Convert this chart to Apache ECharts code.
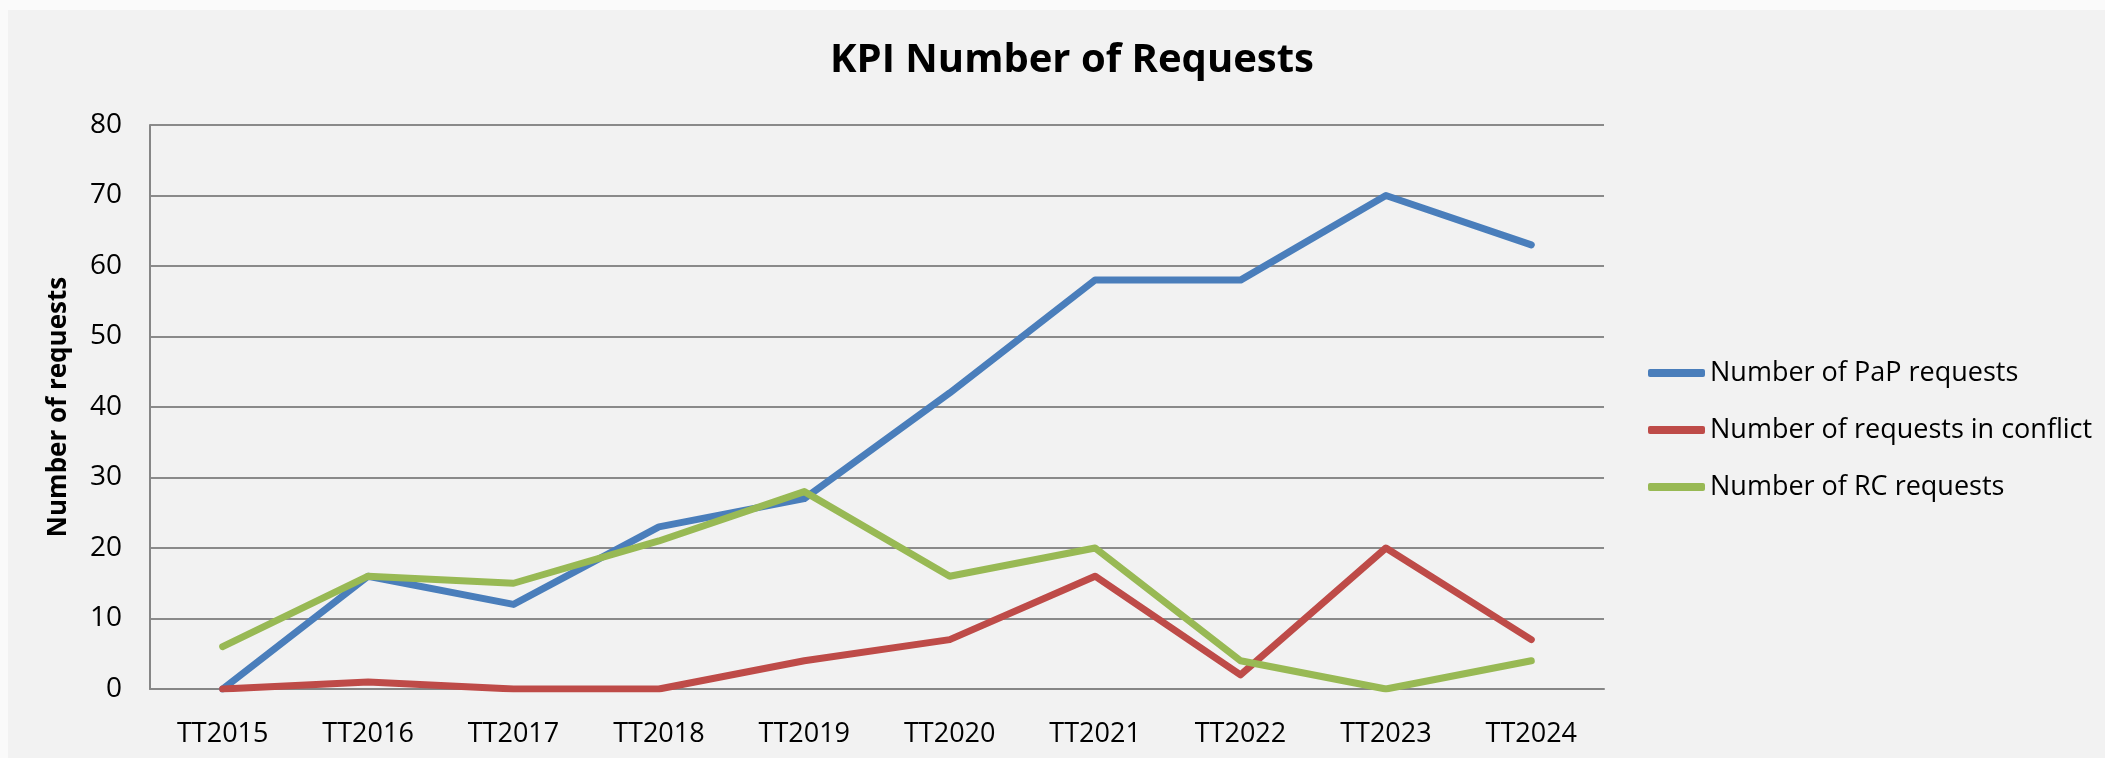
<!DOCTYPE html>
<html>
<head>
<meta charset="utf-8">
<script src="https://cdn.jsdelivr.net/npm/echarts@6/dist/echarts.min.js"></script>
<style>
html,body{margin:0;padding:0;background:#fafafa;width:2105px;height:758px;overflow:hidden;}
#chart{position:absolute;left:8px;top:10px;width:2097px;height:748px;background:#f2f2f2;}
</style>
</head>
<body>
<div id="chart"></div>
<script>
const categories = ['TT2015','TT2016','TT2017','TT2018','TT2019','TT2020','TT2021','TT2022','TT2023','TT2024'];
const papRequests = [0, 16, 12, 23, 27, 42, 58, 58, 70, 63];
const conflictRequests = [0, 1, 0, 0, 4, 7, 16, 2, 20, 7];
const rcRequests = [6, 16, 15, 21, 28, 16, 20, 4, 0, 4];
const seriesNames = ['Number of PaP requests', 'Number of requests in conflict', 'Number of RC requests'];
const yTicks = {min: 0, max: 80, interval: 10};

const FONT = '"Open Sans", "Liberation Sans", sans-serif';
const colors = ['#4a7ebb', '#be4b48', '#98b954'];
const chart = echarts.init(document.getElementById('chart'), null, {renderer: 'canvas'});

function mkSeries(name, data, color) {
  return {
    name: name, type: 'line', data: data, showSymbol: false, symbol: 'none',
    lineStyle: {width: 7, color: color, cap: 'round', join: 'round'},
    itemStyle: {color: color},
    emphasis: {disabled: true},
    animation: false
  };
}

chart.setOption({
  animation: false,
  color: colors,
  title: {
    text: 'KPI Number of Requests',
    left: 1059, top: 26, textAlign: 'center',
    textStyle: {fontFamily: FONT, fontSize: 40, fontWeight: 'bold', color: '#000'}
  },
  grid: {left: 142, top: 115, right: 501, bottom: 69, containLabel: false},
  legend: {
    orient: 'vertical', left: 1635, top: 343,
    icon: 'roundRect', itemWidth: 57, itemHeight: 8, itemGap: 27,
    data: seriesNames,
    textStyle: {fontFamily: FONT, fontSize: 27, color: '#000', lineHeight: 30, padding: [0,0,0,0]}
  },
  xAxis: {
    type: 'category', data: categories, boundaryGap: true,
    axisLine: {lineStyle: {color: '#868686', width: 2}},
    axisTick: {show: false},
    axisLabel: {fontFamily: FONT, fontSize: 27, color: '#000', margin: 32}
  },
  yAxis: {
    type: 'value', min: yTicks.min, max: yTicks.max, interval: yTicks.interval,
    name: 'Number of requests', nameLocation: 'middle', nameGap: 78,
    nameTextStyle: {fontFamily: FONT, fontSize: 26, fontWeight: 'bold', color: '#000'},
    axisLine: {show: true, lineStyle: {color: '#868686', width: 2}},
    axisTick: {show: false},
    splitLine: {lineStyle: {color: '#8a8a8a', width: 2}},
    axisLabel: {fontFamily: FONT, fontSize: 28, color: '#000', margin: 28}
  },
  series: [
    mkSeries(seriesNames[0], papRequests, colors[0]),
    mkSeries(seriesNames[1], conflictRequests, colors[1]),
    mkSeries(seriesNames[2], rcRequests, colors[2])
  ]
});
</script>
</body>
</html>
